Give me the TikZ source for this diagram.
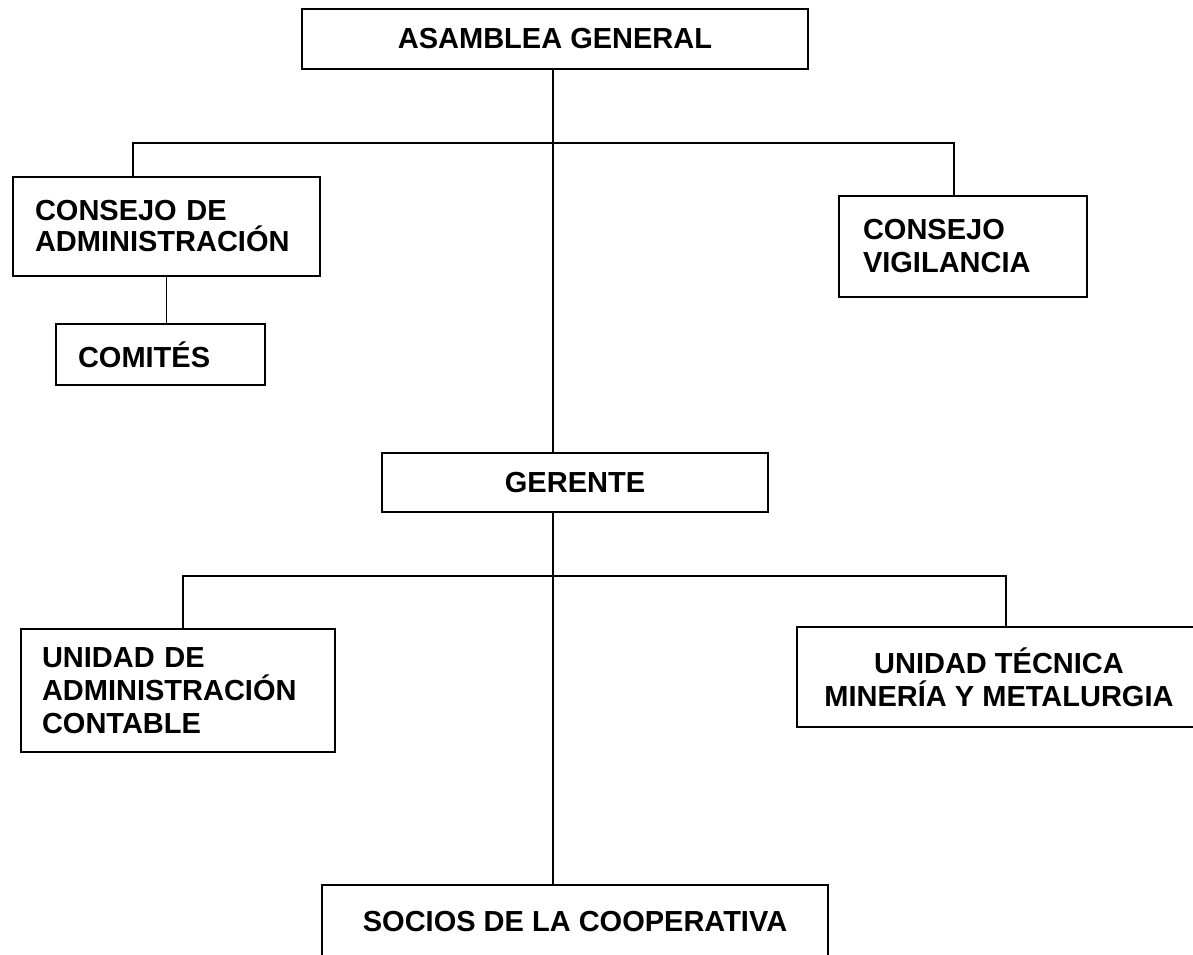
\documentclass[tikz,border=0pt]{standalone}
\usepackage{fontspec}
\setmainfont{Liberation Sans}
\begin{document}
\begin{tikzpicture}[x=1pt,y=-1pt,
  orgbox/.style={draw, line width=1.5pt, inner ysep=0pt, font=\bfseries\fontsize{29}{33}\selectfont},
  lbox/.style={orgbox, align=left, inner xsep=22pt},
  cbox/.style={orgbox, align=center, inner xsep=0pt},
  conn/.style={line width=1.5pt}]
\clip (0,0) rectangle (1193,954);
\fill[white] (0,0) rectangle (1193,954);

\node[cbox, minimum width=506pt, minimum height=60pt] (asamblea) at (555,39) {ASAMBLEA GENERAL};
\node[lbox, text width=263pt, minimum height=99pt, font=\bfseries\fontsize{29}{31}\selectfont] (consejoA) at (166.5,226.5) {CONSEJO DE\\ADMINISTRACIÓN};
\node[lbox, text width=165pt, minimum height=61pt] (comites) at (160.5,354.5) {COMITÉS};
\node[lbox, inner xsep=24pt, text width=200pt, minimum height=101pt] (vig) at (963,246.5) {CONSEJO\\VIGILANCIA};
\node[cbox, minimum width=386pt, minimum height=59pt] (gerente) at (575,482.5) {GERENTE};
\node[lbox, inner xsep=21pt, text width=272pt, minimum height=123pt] (unidadA) at (178,690.5) {UNIDAD DE\\ADMINISTRACIÓN\\CONTABLE};
\node[cbox, minimum width=404pt, minimum height=100pt] (unidadT) at (999,677) {UNIDAD TÉCNICA\\MINERÍA Y METALURGIA};
\node[cbox, minimum width=506pt, minimum height=72pt] (socios) at (575,921) {SOCIOS DE LA COOPERATIVA};

\coordinate (spine) at (553,0);
\coordinate (b1) at (553,143);
\coordinate (b2) at (553,576);
\coordinate (ca) at (133,0);
\coordinate (cv) at (954,0);
\coordinate (ua) at (183,0);
\coordinate (ut) at (1006,0);

\draw[conn] (asamblea.south -| spine) -- (gerente.north -| spine);
\draw[conn] (ca |- consejoA.north) |- (b1) -| (cv |- vig.north);
\draw[conn] (consejoA.south) -- (consejoA.south |- comites.north);
\draw[conn] (gerente.south -| spine) -- (socios.north -| spine);
\draw[conn] (ua |- unidadA.north) |- (b2) -| (ut |- unidadT.north);
\end{tikzpicture}
\end{document}
